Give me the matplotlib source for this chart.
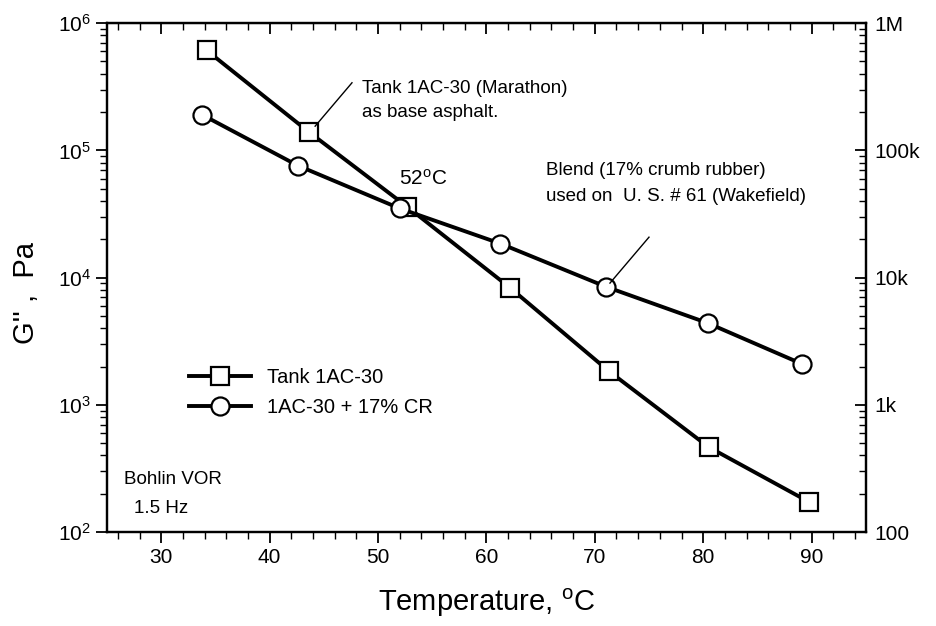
import numpy as np
import matplotlib
matplotlib.use("Agg")
import matplotlib.pyplot as plt
from matplotlib.ticker import LogLocator, FixedLocator, NullFormatter

plt.rcParams['font.family'] = ['Liberation Sans', 'DejaVu Sans']

# data
tank_T = [34.2, 43.6, 52.7, 62.2, 71.3, 80.5, 89.8]
tank_G = [6.1e5, 1.4e5, 3.6e4, 8.3e3, 1.84e3, 466, 172]
cr_T = [33.8, 42.6, 52.0, 61.3, 71.0, 80.4, 89.1]
cr_G = [1.9e5, 7.6e4, 3.5e4, 1.85e4, 8.5e3, 4.4e3, 2.1e3]

x_ticks = [30, 40, 50, 60, 70, 80, 90]
right_ticks = [1e2, 1e3, 1e4, 1e5, 1e6]
right_labels = ['100', '1k', '10k', '100k', '1M']

fig = plt.figure(figsize=(9.37, 6.26), dpi=100)
ax = fig.add_axes([0.1142, 0.150, 0.8098, 0.813])

ax.plot(tank_T, tank_G, color='black', lw=2.8, marker='s', ms=13,
        mfc='white', mec='black', mew=1.6, label='Tank 1AC-30')
ax.plot(cr_T, cr_G, color='black', lw=2.8, marker='o', ms=13,
        mfc='white', mec='black', mew=1.6, label='1AC-30 + 17% CR')

ax.set_yscale('log')
ax.set_xlim(25, 95)
ax.set_ylim(1e2, 1e6)
ax.xaxis.set_major_locator(FixedLocator(x_ticks))
ax.xaxis.set_minor_locator(FixedLocator(np.arange(26, 95, 2)))
ax.yaxis.set_major_locator(LogLocator(base=10, numticks=10))
ax.yaxis.set_minor_locator(LogLocator(base=10, subs=np.arange(2, 10), numticks=10))
ax.yaxis.set_minor_formatter(NullFormatter())

for s in ax.spines.values():
    s.set_linewidth(1.6)

# left and bottom ticks point out
ax.tick_params(axis='both', which='major', direction='out', length=8, width=1.3,
               labelsize=15, top=False, right=False)
ax.tick_params(axis='both', which='minor', direction='out', length=5, width=1.0,
               top=False, right=False)

# top ticks point in
top = ax.secondary_xaxis('top')
top.xaxis.set_major_locator(FixedLocator(x_ticks))
top.xaxis.set_minor_locator(FixedLocator(np.arange(26, 95, 2)))
top.tick_params(which='major', direction='in', length=8, width=1.3, labeltop=False)
top.tick_params(which='minor', direction='in', length=5, width=1.0)

# right axis, ticks in
ax2 = ax.twinx()
ax2.set_yscale('log')
ax2.set_ylim(1e2, 1e6)
ax2.yaxis.set_major_locator(FixedLocator(right_ticks))
ax2.set_yticklabels(right_labels)
ax2.yaxis.set_minor_locator(LogLocator(base=10, subs=np.arange(2, 10), numticks=10))
ax2.yaxis.set_minor_formatter(NullFormatter())
ax2.tick_params(which='major', direction='in', length=8, width=1.3, labelsize=15, pad=6)
ax2.tick_params(which='minor', direction='in', length=5, width=1.0)
for s in ax2.spines.values():
    s.set_linewidth(1.6)

ax.set_xlabel('Temperature, $\\mathregular{^o}$C', fontsize=21, labelpad=14)
ax.set_ylabel("G'' ,  Pa", fontsize=21)
ax.yaxis.set_label_coords(-0.088, 0.47)

# annotations
ax.text(48.5, 3.05e5, 'Tank 1AC-30 (Marathon)', fontsize=13.5, va='center')
ax.text(48.5, 1.98e5, 'as base asphalt.', fontsize=13.5, va='center')
ax.plot([47.6, 44.2], [3.4e5, 1.55e5], color='black', lw=1.0)

ax.text(54.2, 6.0e4, '52$\\mathregular{^o}$C', fontsize=15, ha='center', va='center')

ax.text(65.5, 7.0e4, 'Blend (17% crumb rubber)', fontsize=13.5, va='center')
ax.text(65.5, 4.35e4, 'used on  U. S. # 61 (Wakefield)', fontsize=13.5, va='center')
ax.plot([75.0, 71.4], [2.08e4, 9.06e3], color='black', lw=1.0)

ax.text(26.6, 2.6e2, 'Bohlin VOR', fontsize=13.5, va='center')
ax.text(27.5, 1.52e2, '1.5 Hz', fontsize=13.5, va='center')

leg = ax.legend(loc='upper left', bbox_to_anchor=(0.108, 0.322), frameon=False,
                fontsize=14.5, handlelength=3.1, labelspacing=0.55, handletextpad=0.8,
                borderpad=0, borderaxespad=0)

fig.savefig('out.png', dpi=100)
